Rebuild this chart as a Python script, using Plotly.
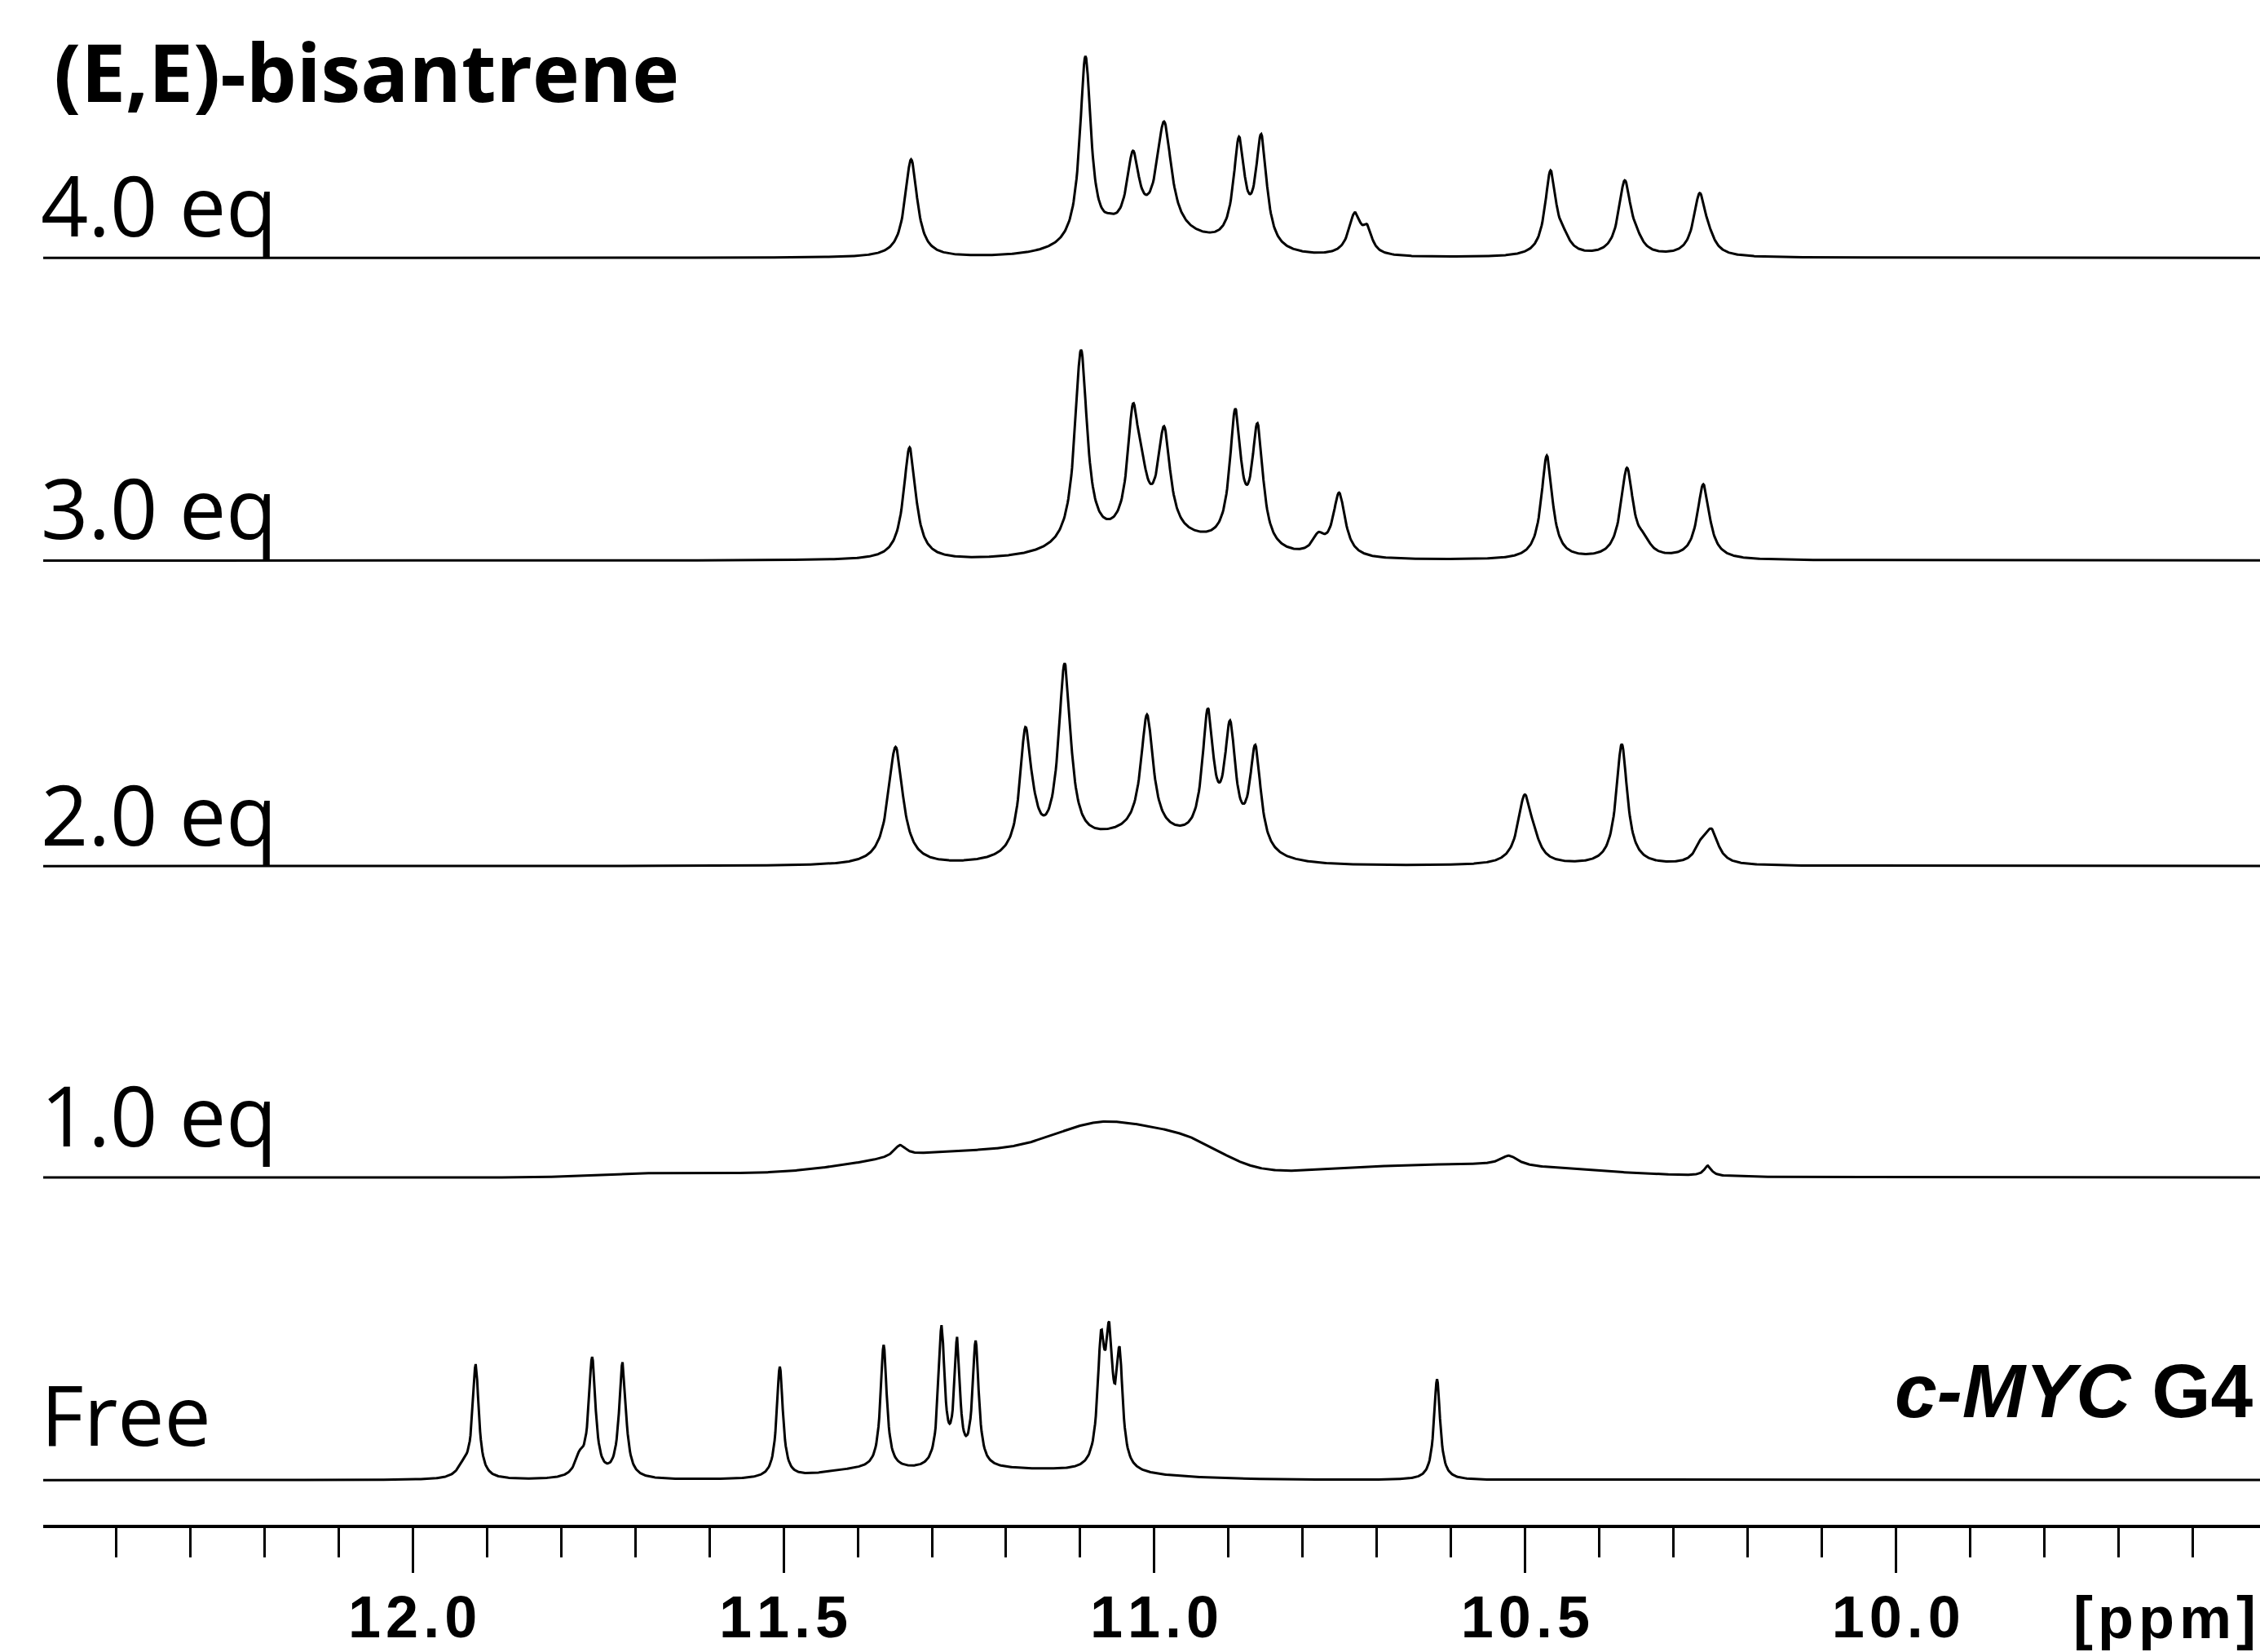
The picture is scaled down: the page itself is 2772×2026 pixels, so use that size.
import numpy as np
import plotly.graph_objects as go

# ---------------- data (ppm, height, line width) ----------------
# Lorentzian peaks: centre [ppm], height [a.u.], full width at half height [ppm]
FREE_PPM    = [11.931, 11.915, 11.775, 11.758, 11.717, 11.505, 11.365, 11.287, 11.266, 11.241, 11.072, 11.061, 11.047, 10.619]
FREE_HEIGHT = [8, 78, 12, 82, 80, 77, 86, 96, 84, 86, 80, 81, 74, 70]
FREE_WIDTH  = [0.020, 0.010, 0.015, 0.011, 0.011, 0.010, 0.010, 0.010, 0.009, 0.010, 0.011, 0.011, 0.010, 0.010]
FREE_BROAD  = [(11.20, 7, 0.15), (11.40, 4, 0.05)]

EQ1_PPM    = [11.343, 10.522, 10.254]
EQ1_HEIGHT = [8, 7, 7]
EQ1_WIDTH  = [0.020, 0.030, 0.012]
EQ1_BROAD  = [(11.06, 30, 0.07), (11.25, 18, 0.14), (10.95, 16, 0.05), (10.60, 9, 0.17), (11.65, 3, 0.08)]

EQ2_PPM    = [11.349, 11.174, 11.163, 11.121, 11.010, 10.928, 10.898, 10.864, 10.501, 10.488, 10.370, 10.263, 10.249]
EQ2_HEIGHT = [82, 82, 10, 126, 82, 88, 80, 72, 46, 8, 84, 10, 22]
EQ2_WIDTH  = [0.024, 0.018, 0.020, 0.020, 0.020, 0.018, 0.018, 0.018, 0.022, 0.020, 0.018, 0.020, 0.022]
EQ2_BROAD  = [(11.02, 20, 0.09)]

EQ3_PPM    = [11.330, 11.099, 11.029, 11.017, 10.987, 10.891, 10.861, 10.779, 10.751, 10.471, 10.363, 10.340, 10.260]
EQ3_HEIGHT = [78, 136, 78, 25, 71, 90, 82, 12, 44, 72, 62, 8, 52]
EQ3_WIDTH  = [0.020, 0.020, 0.018, 0.020, 0.020, 0.018, 0.018, 0.020, 0.020, 0.018, 0.020, 0.020, 0.020]
EQ3_BROAD  = [(11.00, 14, 0.09)]

EQ4_PPM    = [11.328, 11.093, 11.060, 11.029, 10.987, 10.886, 10.856, 10.730, 10.713, 10.466, 10.448, 10.366, 10.350, 10.265, 10.252]
EQ4_HEIGHT = [68, 130, 4, 52, 76, 71, 76, 28, 15, 58, 8, 51, 6, 42, 6]
EQ4_WIDTH  = [0.020, 0.018, 0.020, 0.020, 0.024, 0.018, 0.018, 0.020, 0.015, 0.018, 0.020, 0.020, 0.020, 0.020, 0.020]
EQ4_BROAD  = [(11.00, 14, 0.08)]

TRACE_LABELS = ["Free", "1.0 eq", "2.0 eq", "3.0 eq", "4.0 eq"]
TICK_VALUES = [12.0, 11.5, 11.0, 10.5, 10.0]
TICK_LABELS = ["12.0", "11.5", "11.0", "10.5", "10.0"]

SPECTRA = [
    (FREE_PPM, FREE_HEIGHT, FREE_WIDTH, FREE_BROAD),
    (EQ1_PPM, EQ1_HEIGHT, EQ1_WIDTH, EQ1_BROAD),
    (EQ2_PPM, EQ2_HEIGHT, EQ2_WIDTH, EQ2_BROAD),
    (EQ3_PPM, EQ3_HEIGHT, EQ3_WIDTH, EQ3_BROAD),
    (EQ4_PPM, EQ4_HEIGHT, EQ4_WIDTH, EQ4_BROAD),
]

# ---------------- layout constants ----------------
W, H = 2772, 2026
ML, MR, MT, MB = 53, 0, 0, 156
STACK = [31, 241, 457, 669, 879]          # vertical stacking of the spectra
Y_TOP = 1058
X_RANGE = [12.498, 9.5096]

ppm = np.arange(9.40, 12.60, 0.001)


def spectrum(centres, heights, widths, broad):
    y = np.zeros_like(ppm)
    for c, h, w in zip(centres, heights, widths):
        hw = w / 2.0
        y += h * hw * hw / ((ppm - c) ** 2 + hw * hw)
    for c, h, s in broad:
        y += h * np.exp(-0.5 * ((ppm - c) / s) ** 2)
    return y


fig = go.Figure()
for (c, h, w, b), off in zip(SPECTRA, STACK):
    fig.add_trace(go.Scatter(x=ppm, y=spectrum(c, h, w, b) + off, mode="lines",
                             line=dict(color="black", width=3), hoverinfo="skip"))
# empty trace so that the overlay axis (long major ticks) is drawn
fig.add_trace(go.Scatter(x=[], y=[], xaxis="x2", mode="lines", hoverinfo="skip"))

spaced = ["\u200a".join(list(t)) for t in TICK_LABELS]

fig.update_layout(
    width=W, height=H, margin=dict(l=ML, r=MR, t=MT, b=MB, autoexpand=False),
    paper_bgcolor="white", plot_bgcolor="white", showlegend=False,
    xaxis=dict(range=X_RANGE, showgrid=False, zeroline=False, automargin=False,
               showline=True, linecolor="black", linewidth=4,
               ticks="outside", ticklen=48, tickwidth=2.6, tickcolor="black",
               tickvals=TICK_VALUES, ticktext=spaced,
               tickfont=dict(family="Liberation Sans, Arial", size=72, color="black", weight="bold"),
               minor=dict(ticks="outside", dtick=0.1, tick0=0, ticklen=36, tickwidth=2.6,
                          tickcolor="black", showgrid=False)),
    xaxis2=dict(range=X_RANGE, overlaying="x", anchor="y", side="bottom", showgrid=False,
                zeroline=False, automargin=False, showline=False, showticklabels=False,
                ticks="outside", ticklen=58, tickwidth=2.6, tickcolor="black",
                tickvals=TICK_VALUES),
    yaxis=dict(range=[0, Y_TOP], visible=False, showgrid=False, zeroline=False, automargin=False),
)

label_y = [77, 285, 493.5, 706.5, 916.5]
for txt, yy in zip(TRACE_LABELS, label_y):
    fig.add_annotation(text=txt, xref="paper", yref="y", x=-0.002, y=yy,
                       xanchor="left", yanchor="middle", showarrow=False,
                       font=dict(family="Open Sans", size=102, color="black"))

fig.add_annotation(text="(E,E)-bisantrene", xref="paper", yref="y", x=0.004, y=1008.5,
                   xanchor="left", yanchor="middle", showarrow=False,
                   font=dict(family="Open Sans", size=98, color="black", weight="bold"))

fig.add_annotation(text="<i>c-MYC</i> G4", xref="paper", yref="y", x=(2322 - ML) / (W - ML), y=93,
                   xanchor="left", yanchor="middle", showarrow=False,
                   font=dict(family="Liberation Sans, Arial", size=93, color="black", weight="bold"))

fig.add_annotation(text="\u200a".join(list("[ppm]")), xref="paper", yref="paper", x=0.999, y=-(1984 - 1870) / 1870,
                   xanchor="right", yanchor="middle", showarrow=False,
                   font=dict(family="Liberation Sans, Arial", size=72, color="black", weight="bold"))

fig.write_html("out.html", config={"displayModeBar": False},
               post_script="document.body.style.margin='0';document.body.style.padding='0';document.body.style.overflow='hidden';")
